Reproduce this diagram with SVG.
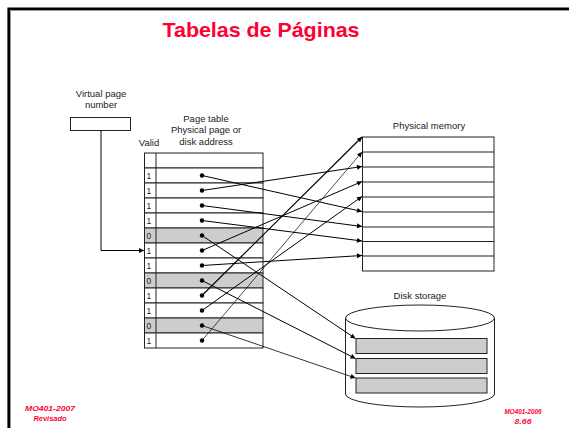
<svg xmlns="http://www.w3.org/2000/svg" width="569" height="428" viewBox="0 0 569 428">
<defs>
<marker id="ah" viewBox="0 0 10 10" refX="10" refY="5" markerWidth="7" markerHeight="5" markerUnits="userSpaceOnUse" orient="auto">
<path d="M0,0 L10,5 L0,10 Z" fill="#000"/>
</marker>
<style>
.lbl{font-family:"Liberation Sans",Arial,sans-serif;font-size:9.5px;fill:#222;text-anchor:middle}
.num{font-family:"Liberation Sans",Arial,sans-serif;font-size:8.5px;fill:#222}
.row{fill:#fff;stroke:#222;stroke-width:1}
.gray{fill:#cdcdcd;stroke:#222;stroke-width:1}
.dot{fill:#000}
.con{fill:none;stroke:#000;stroke-width:1;marker-end:url(#ah)}
.red{font-family:"Liberation Sans",Arial,sans-serif;font-weight:bold;font-style:italic;fill:#ff0033;text-anchor:middle}
</style>
</defs>
<rect width="569" height="428" fill="#fff"/>
<path d="M8.7,428 V8.7 H569" fill="none" stroke="#000" stroke-width="2.6"/>
<path d="M10.5,428 V10.5 H569" fill="none" stroke="#999" stroke-width="1"/>
<text x="261" y="37" font-family="'Comic Sans MS','Liberation Sans',sans-serif" font-weight="bold" font-size="21" fill="#ff0033" text-anchor="middle" textLength="197" lengthAdjust="spacingAndGlyphs">Tabelas de Páginas</text>

<g id="virtual-page">
<text class="lbl" x="101" y="97">Virtual page</text>
<text class="lbl" x="101" y="108">number</text>
<rect x="70.5" y="117.5" width="60" height="13" fill="#fff" stroke="#222"/>
</g>

<g id="page-table">
<text class="lbl" x="206" y="121.5">Page table</text>
<text class="lbl" x="206" y="133">Physical page or</text>
<text class="lbl" x="206" y="145">disk address</text>
<text class="lbl" x="149" y="146">Valid</text>
<rect class="row" x="144.5" y="153" width="118.5" height="15"/>
<rect class="row" x="144.5" y="168" width="118.5" height="15"/>
<rect class="row" x="144.5" y="183" width="118.5" height="15"/>
<rect class="row" x="144.5" y="198" width="118.5" height="15"/>
<rect class="row" x="144.5" y="213" width="118.5" height="15"/>
<rect class="gray" x="144.5" y="228" width="118.5" height="15"/>
<rect class="row" x="144.5" y="243" width="118.5" height="15"/>
<rect class="row" x="144.5" y="258" width="118.5" height="15"/>
<rect class="gray" x="144.5" y="273" width="118.5" height="15"/>
<rect class="row" x="144.5" y="288" width="118.5" height="15"/>
<rect class="row" x="144.5" y="303" width="118.5" height="15"/>
<rect class="gray" x="144.5" y="318" width="118.5" height="15"/>
<rect class="row" x="144.5" y="333" width="118.5" height="15"/>
<line x1="156" y1="153" x2="156" y2="348" stroke="#222"/>
<text class="num" x="146.5" y="179">1</text>
<text class="num" x="146.5" y="194">1</text>
<text class="num" x="146.5" y="209">1</text>
<text class="num" x="146.5" y="224">1</text>
<text class="num" x="146.5" y="239">0</text>
<text class="num" x="146.5" y="254">1</text>
<text class="num" x="146.5" y="269">1</text>
<text class="num" x="146.5" y="284">0</text>
<text class="num" x="146.5" y="299">1</text>
<text class="num" x="146.5" y="314">1</text>
<text class="num" x="146.5" y="329">0</text>
<text class="num" x="146.5" y="344">1</text>
<circle class="dot" cx="202" cy="175.5" r="2.2"/>
<circle class="dot" cx="202" cy="190.5" r="2.2"/>
<circle class="dot" cx="202" cy="205.5" r="2.2"/>
<circle class="dot" cx="202" cy="220.5" r="2.2"/>
<circle class="dot" cx="202" cy="235.5" r="2.2"/>
<circle class="dot" cx="202" cy="250.5" r="2.2"/>
<circle class="dot" cx="202" cy="265.5" r="2.2"/>
<circle class="dot" cx="202" cy="280.5" r="2.2"/>
<circle class="dot" cx="202" cy="295.5" r="2.2"/>
<circle class="dot" cx="202" cy="310.5" r="2.2"/>
<circle class="dot" cx="202" cy="325.5" r="2.2"/>
<circle class="dot" cx="202" cy="340.5" r="2.2"/>
</g>

<g id="physical-memory">
<text class="lbl" x="429" y="129">Physical memory</text>
<rect x="362.5" y="137" width="131.5" height="134" fill="#fff" stroke="#222"/>
<path d="M362.5,152 H494 M362.5,167 H494 M362.5,182 H494 M362.5,197 H494 M362.5,212 H494 M362.5,227 H494 M362.5,241.5 H494 M362.5,256 H494" stroke="#222" stroke-width="1"/>
</g>

<g id="disk-storage">
<text class="lbl" x="420" y="299">Disk storage</text>
<path d="M345.5,318 A74.5,13 0 0 1 494.5,318 V394 A74.5,13 0 0 1 345.5,394 Z" fill="#fff" stroke="#222"/>
<path d="M345.5,318 A74.5,13 0 0 0 494.5,318" fill="none" stroke="#222"/>
<rect class="gray" x="356" y="338.5" width="131" height="15"/>
<rect class="gray" x="356" y="358.5" width="131" height="15"/>
<rect class="gray" x="356" y="378" width="131" height="15"/>
</g>

<g id="connectors">
<path class="con" d="M101,130.5 V250.5 H144"/>
<line class="con" x1="202" y1="175.5" x2="362" y2="211.5"/>
<line class="con" x1="202" y1="190.5" x2="362" y2="166.5"/>
<line class="con" x1="202" y1="205.5" x2="362" y2="226.5"/>
<line class="con" x1="202" y1="220.5" x2="362" y2="241"/>
<line class="con" x1="202" y1="250.5" x2="362" y2="181.5"/>
<line class="con" x1="202" y1="265.5" x2="362" y2="255.5"/>
<line class="con" x1="202" y1="295.5" x2="362" y2="137" style="stroke-width:1.2"/>
<line class="con" x1="202" y1="310.5" x2="362" y2="196.5"/>
<line class="con" x1="202" y1="340.5" x2="362" y2="152" style="stroke-width:0.7"/>
<line class="con" x1="202" y1="235.5" x2="355.5" y2="338.5"/>
<line class="con" x1="202" y1="280.5" x2="355.5" y2="358.5"/>
<line class="con" x1="202" y1="325.5" x2="355.5" y2="378" style="stroke-width:0.8"/>
</g>

<text class="red" x="50" y="411" font-size="7.5" textLength="50" lengthAdjust="spacingAndGlyphs">MO401-2007</text>
<text class="red" x="50" y="421" font-size="7" textLength="33" lengthAdjust="spacingAndGlyphs">Revisado</text>
<text class="red" x="523" y="414" font-size="6.5" textLength="37" lengthAdjust="spacingAndGlyphs">MO401-2006</text>
<text class="red" x="523" y="424" font-size="6.5" textLength="17" lengthAdjust="spacingAndGlyphs">8.66</text>
</svg>
